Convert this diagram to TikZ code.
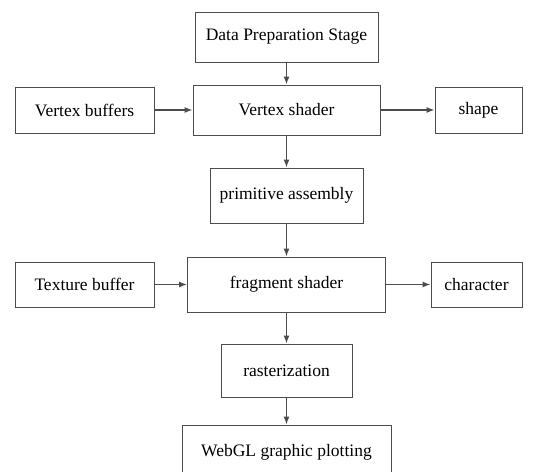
\documentclass[tikz,border=0pt]{standalone}
\usepackage{fontspec}
\setmainfont{Liberation Serif}
\usetikzlibrary{arrows.meta}

\begin{document}
\begin{tikzpicture}[x=1pt, y=-1pt,
    stagebox/.style={rectangle, draw=black!70, line width=0.9pt, fill=white, inner sep=0pt, font=\fontsize{17.5}{20}\selectfont},
    flow/.style={draw=black!70, line width=1.2pt, -{Latex[length=8pt, width=6pt]}}]
        \useasboundingbox (0, 0) rectangle (534, 471);

        \node[stagebox, minimum width=183pt, minimum height=50pt] (prep) at (286.5, 37) {Data Preparation Stage};
        \node[stagebox, minimum width=139pt, minimum height=46pt] (vbuf) at (84.5, 110) {Vertex buffers};
        \node[stagebox, minimum width=187pt, minimum height=50pt] (vsh) at (286.5, 110) {Vertex shader};
        \node[stagebox, minimum width=87pt, minimum height=46pt] (shape) at (478.5, 110) {shape};
        \node[stagebox, minimum width=153pt, minimum height=55pt] (prim) at (286.5, 195.5) {primitive assembly};
        \node[stagebox, minimum width=139pt, minimum height=45pt] (tbuf) at (84.5, 284.5) {Texture buffer};
        \node[stagebox, minimum width=198pt, minimum height=55pt] (fsh) at (286.5, 284.5) {fragment shader};
        \node[stagebox, minimum width=91pt, minimum height=45pt] (char) at (476.5, 284.5) {character};
        \node[stagebox, minimum width=131pt, minimum height=53pt] (rast) at (286.5, 370.5) {rasterization};
        \node[stagebox, minimum width=209pt, minimum height=54pt] (webgl) at (286.5, 452) {WebGL graphic plotting};

        \draw[flow] (prep) -- (vsh);
        \draw[flow] (vbuf) -- (vsh);
        \draw[flow] (vsh) -- (shape);
        \draw[flow] (vsh) -- (prim);
        \draw[flow] (prim) -- (fsh);
        \draw[flow] (tbuf) -- (fsh);
        \draw[flow] (fsh) -- (char);
        \draw[flow] (fsh) -- (rast);
        \draw[flow] (rast) -- (webgl);
    \end{tikzpicture}
\end{document}
